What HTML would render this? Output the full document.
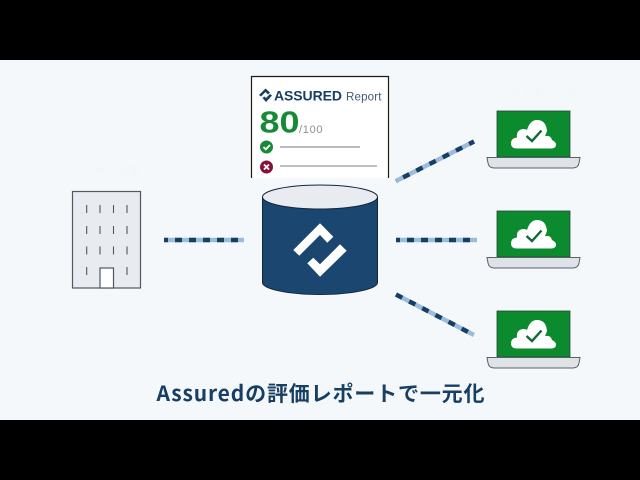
<!DOCTYPE html>
<html lang="ja">
<head>
<meta charset="utf-8">
<style>
html,body{margin:0;padding:0;background:#000;}
svg{display:block;}
text{font-family:"Liberation Sans","Noto Sans CJK JP",sans-serif;}
</style>
</head>
<body>
<svg width="640" height="480" viewBox="0 0 640 480" xmlns="http://www.w3.org/2000/svg">
<defs>
<g id="laptop">
  <rect x="497" y="111" width="73" height="46" fill="#0b8a2e" stroke="#24483a" stroke-width="0.8"/>
  <path d="M487 157.500H580 L579 163 Q578 168 573 168 H494 Q489 168 488 163 Z" fill="#dfe2e6" stroke="#59626c" stroke-width="1"/>
  <path d="M517 148.500 Q511 148.500 511 143.500 Q511 138 517 137.500 Q516 130 523 129 Q526 129 527 130 Q530 120 537 120 Q546 120 547 131 Q546 134 545 136 Q551 135 552 140 Q556 142 556 144.500 Q556 148.500 551 148.500 Z" fill="#fff"/>
  <path d="M526.500 136 L532 141 L541.500 130.500" fill="none" stroke="#0f6b35" stroke-width="2.400"/>
</g>
</defs>

<rect x="0" y="0" width="640" height="480" fill="#000"/>
<rect x="0" y="60" width="640" height="360" fill="#f5f8fa"/>

<!-- faint labels -->
<text x="107" y="174" font-size="11" text-anchor="middle" fill="#f2f5f7">ユーザー企業</text>
<text x="533" y="95" font-size="11" text-anchor="middle" fill="#f2f5f7">クラウドサービス</text>

<!-- report card -->
<path d="M251.500 178 V76.500 H388.500 V178" fill="#fff" stroke="#1a1a1a" stroke-width="1.200"/>
<path d="M259 95 L265.500 88.500 L270 92.500 L268 94.500 L265.500 92 L261 96.500 Z" fill="#163f63"/>
<path d="M262.500 98 L264.500 96.500 L266 98 L270 94 L272 95.500 L266 102 Z" fill="#163f63"/>
<text x="274" y="100.500" font-size="14" font-weight="bold" fill="#163f63" textLength="68" lengthAdjust="spacing">ASSURED</text>
<text x="346" y="100.500" font-size="11.500" fill="#3f5a73" textLength="35.500" lengthAdjust="spacing">Report</text>
<text x="259.500" y="132.500" font-size="31" font-weight="bold" fill="#178a37" textLength="40" lengthAdjust="spacingAndGlyphs">80</text>
<text x="299" y="133" font-size="11" fill="#8a8f94" textLength="23.500" lengthAdjust="spacing">/100</text>
<circle cx="266.500" cy="147" r="6.500" fill="#178a37"/>
<path d="M263.500 147 L265.800 149.300 L270 145" fill="none" stroke="#fff" stroke-width="1.800"/>
<line x1="280" y1="147" x2="360" y2="147" stroke="#8f9498" stroke-width="1.200"/>
<circle cx="266.500" cy="167" r="6.500" fill="#8b1038"/>
<path d="M264 164.500 L269 169.500 M269 164.500 L264 169.500" fill="none" stroke="#fff" stroke-width="1.800"/>
<line x1="280" y1="166" x2="377" y2="166" stroke="#a8acb0" stroke-width="1.400"/>

<!-- cylinder -->
<path d="M262.500 197 V282.500 C262.500 289 288 294.500 320 294.500 C352 294.500 377.500 289 377.500 282.500 V197 Z" fill="#1a4670" stroke="#12263a" stroke-width="1"/>
<ellipse cx="320" cy="197" rx="57.500" ry="12" fill="#e8ecf0" stroke="#12263a" stroke-width="1"/>
<path d="M293.300 250 L320 223.300 L333.300 236.700 L327.300 242.700 L320 235 L299.300 255.700 Z" fill="#fff"/>
<path d="M307.300 263.300 L313.300 257.700 L320 264.300 L340 244.300 L346.700 250.700 L320 276.700 Z" fill="#fff"/>

<!-- building -->
<rect x="72.500" y="191.500" width="68" height="96.500" fill="#e8ecf1" stroke="#4f5863" stroke-width="1.200"/>
<g stroke="#4f5863" stroke-width="1.100">
  <path d="M86.700 205V213M100 205V213M113.500 205V213M127 205V213"/>
  <path d="M86.700 226V234M100 226V234M113.500 226V234M127 226V234"/>
  <path d="M86.700 246.500V254.500M100 246.500V254.500M113.500 246.500V254.500M127 246.500V254.500"/>
  <path d="M86.700 267V275M127 267V275"/>
</g>
<rect x="100" y="268" width="13.500" height="20" fill="#fff" stroke="#4f5863" stroke-width="1.200"/>

<!-- connectors -->
<g fill="none" stroke-width="4.500">
  <line x1="164" y1="240" x2="244" y2="240" stroke="#9dbcdc"/>
  <line x1="164" y1="240" x2="244" y2="240" stroke="#163f63" stroke-dasharray="7 7" stroke-dashoffset="3"/>
  <line x1="396" y1="240" x2="477" y2="240" stroke="#9dbcdc"/>
  <line x1="396" y1="240" x2="477" y2="240" stroke="#163f63" stroke-dasharray="7 7" stroke-dashoffset="3"/>
  <line x1="396" y1="181" x2="474" y2="141.500" stroke="#9dbcdc"/>
  <line x1="396" y1="181" x2="474" y2="141.500" stroke="#163f63" stroke-dasharray="7 7.800" stroke-dashoffset="-8"/>
  <line x1="396" y1="294.500" x2="474" y2="335" stroke="#9dbcdc"/>
  <line x1="396" y1="294.500" x2="474" y2="335" stroke="#163f63" stroke-dasharray="7 7.800"/>
</g>

<!-- laptops -->
<use href="#laptop"/>
<use href="#laptop" y="100"/>
<use href="#laptop" y="200"/>

<!-- title -->
<text x="156.500" y="401" font-size="21" font-weight="bold" fill="#163f63" textLength="328" lengthAdjust="spacing" style="font-family:'Noto Sans CJK JP',sans-serif">Assuredの評価レポートで一元化</text>
</svg>
</body>
</html>
